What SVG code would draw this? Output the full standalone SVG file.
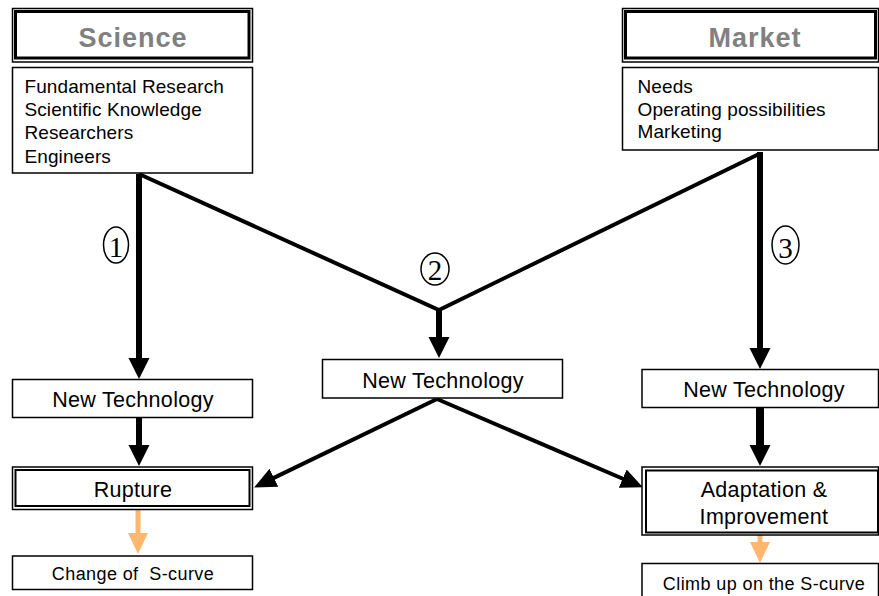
<svg xmlns="http://www.w3.org/2000/svg" width="879" height="596" viewBox="0 0 879 596">
<defs>
<style>
.bx{fill:#fff;stroke:#000;stroke-width:1.5}
.thick{fill:none;stroke:#000;stroke-width:3}
.in{fill:none;stroke:#000;stroke-width:2}
.hd{font-family:"Liberation Sans",Arial,sans-serif;font-weight:bold;font-size:27px;fill:#808080;text-anchor:middle;letter-spacing:1px}
.ds{font-family:"Liberation Sans",Arial,sans-serif;font-size:19px;fill:#000;letter-spacing:0.1px}
.lb{font-family:"Liberation Sans",Arial,sans-serif;font-size:21.5px;fill:#000;text-anchor:middle;letter-spacing:0.3px}
.sm{font-family:"Liberation Sans",Arial,sans-serif;font-size:18px;fill:#000;text-anchor:middle;letter-spacing:0.4px;white-space:pre}
.num{font-family:"Liberation Serif","Times New Roman",serif;font-size:29px;fill:#000;text-anchor:middle}
.ell{fill:none;stroke:#000;stroke-width:1.5}
.shaft{fill:none;stroke:#000;stroke-width:6}
.diag{fill:none;stroke:#000;stroke-width:4}
.or{fill:none;stroke:#FFB66E;stroke-width:5}
</style>
<marker id="ah" markerUnits="userSpaceOnUse" markerWidth="22" markerHeight="22" refX="11" refY="10.5" orient="auto" viewBox="0 0 22 21">
<path d="M0,0 L21,10.5 L0,21 z" fill="#000"/>
</marker>
<marker id="ah2" markerUnits="userSpaceOnUse" markerWidth="24" markerHeight="22" refX="11" refY="10" orient="auto" viewBox="0 0 24 20">
<path d="M0,0 L22,10 L0,20 z" fill="#000"/>
</marker>
<marker id="ao" markerUnits="userSpaceOnUse" markerWidth="22" markerHeight="22" refX="0" refY="10" orient="auto" viewBox="0 0 22 20">
<path d="M0,0 L21,10 L0,20 z" fill="#FFB66E"/>
</marker>
</defs>
<rect width="879" height="596" fill="#fff"/>

<g id="connectors">
<polyline class="diag" points="139,174 439,310 759,154"/>
<line class="shaft" x1="139" y1="174" x2="139" y2="369" marker-end="url(#ah)"/>
<line class="shaft" x1="439" y1="308" x2="439" y2="348" marker-end="url(#ah)"/>
<line class="shaft" x1="760" y1="152" x2="760" y2="359" marker-end="url(#ah)"/>
<line class="shaft" x1="139" y1="418" x2="139" y2="456" marker-end="url(#ah)"/>
<line class="shaft" x1="760" y1="407" x2="760" y2="456" style="stroke-width:8" marker-end="url(#ah)"/>
<line class="diag" x1="437" y1="399" x2="264" y2="482.6" marker-end="url(#ah2)"/>
<line class="diag" x1="437" y1="399" x2="632.8" y2="483" marker-end="url(#ah2)"/>
<line class="or" x1="138" y1="510" x2="138" y2="533" marker-end="url(#ao)"/>
<line class="or" x1="760" y1="535" x2="760" y2="542" marker-end="url(#ao)"/>
</g>

<g id="science">
<rect class="bx" x="12.5" y="8.5" width="240" height="53.5"/>
<rect class="thick" x="15.5" y="11.5" width="233.5" height="46.5"/>
<text class="hd" x="133" y="46.5">Science</text>
</g>
<g id="science-details">
<rect class="bx" x="12.5" y="67.5" width="240" height="105.5"/>
<text class="ds" x="24.5" y="93">Fundamental Research</text>
<text class="ds" x="24.5" y="116">Scientific Knowledge</text>
<text class="ds" x="24.5" y="139">Researchers</text>
<text class="ds" x="24.5" y="162.5">Engineers</text>
</g>

<g id="market">
<rect class="bx" x="622.5" y="8.5" width="256" height="53.5"/>
<rect class="thick" x="625.5" y="11.5" width="250" height="46.5"/>
<text class="hd" x="755" y="46.5">Market</text>
</g>
<g id="market-details">
<rect class="bx" x="622.5" y="67.5" width="256" height="82.5"/>
<text class="ds" x="637.5" y="92.5">Needs</text>
<text class="ds" x="637.5" y="115.5">Operating possibilities</text>
<text class="ds" x="637.5" y="138">Marketing</text>
</g>

<g id="label-1">
<ellipse class="ell" cx="116" cy="245" rx="12.5" ry="18"/>
<text class="num" x="116" y="257">1</text>
</g>
<g id="label-2">
<ellipse class="ell" cx="435" cy="269" rx="14" ry="16"/>
<text class="num" x="435" y="280">2</text>
</g>
<g id="label-3">
<ellipse class="ell" cx="785.5" cy="245" rx="13.5" ry="19"/>
<text class="num" x="785.5" y="258">3</text>
</g>

<g id="newtech-left">
<rect class="bx" x="12.5" y="379.5" width="240" height="38"/>
<text class="lb" x="133" y="407">New Technology</text>
</g>
<g id="newtech-mid">
<rect class="bx" x="322.5" y="359.5" width="240" height="38.5"/>
<text class="lb" x="443" y="388">New Technology</text>
</g>
<g id="newtech-right">
<rect class="bx" x="642" y="369.5" width="236.5" height="38"/>
<text class="lb" x="764" y="397">New Technology</text>
</g>

<g id="rupture">
<rect class="bx" x="12.5" y="467" width="240" height="42.5"/>
<rect class="in" x="15.5" y="470" width="234" height="36"/>
<text class="lb" x="133" y="497">Rupture</text>
</g>
<g id="adaptation">
<rect class="bx" x="642" y="467" width="236.5" height="68"/>
<rect class="in" x="646" y="470.5" width="232" height="62"/>
<text class="lb" x="764" y="497">Adaptation &amp;</text>
<text class="lb" x="764" y="523.5">Improvement</text>
</g>

<g id="change-scurve">
<rect class="bx" x="12.5" y="556" width="240" height="33.5"/>
<text class="sm" x="133" y="580">Change of  S-curve</text>
</g>
<g id="climb-scurve">
<rect class="bx" x="642" y="563.5" width="236.5" height="40"/>
<text class="sm" x="764" y="589.5">Climb up on the S-curve</text>
</g>
</svg>
